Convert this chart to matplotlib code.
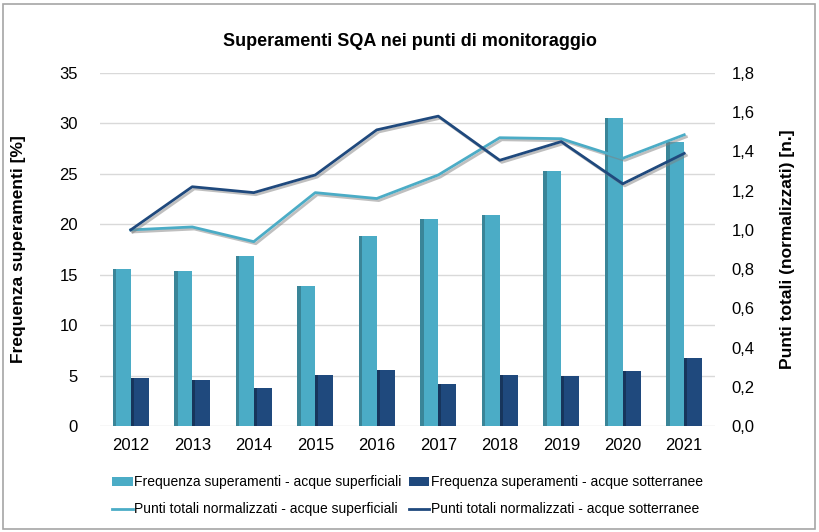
import matplotlib.pyplot as plt
import matplotlib.patheffects as pe
from matplotlib.patches import Rectangle
from matplotlib.lines import Line2D
import numpy as np

plt.rcParams['font.family'] = ['Liberation Sans', 'DejaVu Sans']

years = ['2012', '2013', '2014', '2015', '2016', '2017', '2018', '2019', '2020', '2021']
freq_sup = [15.6, 15.35, 16.85, 13.9, 18.85, 20.5, 20.95, 25.3, 30.5, 28.2]
freq_sott = [4.8, 4.6, 3.8, 5.05, 5.6, 4.15, 5.05, 4.95, 5.45, 6.75]
punti_sup = [1.0, 1.015, 0.94, 1.19, 1.16, 1.28, 1.47, 1.465, 1.365, 1.485]
punti_sott = [1.0, 1.22, 1.19, 1.28, 1.51, 1.58, 1.355, 1.45, 1.235, 1.39]

light = '#4BACC6'
dark = '#1F497D'

fig = plt.figure(figsize=(8.19, 5.32), dpi=100)
fig.patches.append(Rectangle((0.004, 0.006), 0.991, 0.987, transform=fig.transFigure,
                             fill=False, edgecolor='#A6A6A6', linewidth=1.2))
ax = fig.add_axes([100 / 819, 1 - 426 / 532, 615 / 819, 353 / 532])
ax2 = ax.twinx()

x = np.arange(len(years))
w = 0.29
b1 = ax.bar(x - w / 2, freq_sup, w, color=light, zorder=2, label='Frequenza superamenti - acque superficiali')
b2 = ax.bar(x + w / 2, freq_sott, w, color=dark, zorder=2, label='Frequenza superamenti - acque sotterranee')
# darker left edge to mimic the shaded bars
ax.bar(x - w + w * 0.09, freq_sup, w * 0.18, color='#3A8598', zorder=2, linewidth=0)
ax.bar(x + w * 0.09, freq_sott, w * 0.18, color='#17355C', zorder=2, linewidth=0)

shadow = [pe.SimpleLineShadow(offset=(1.5, -1.5), shadow_color='gray', alpha=0.5), pe.Normal()]
ax2.plot(x, punti_sup, color=light, lw=2, path_effects=shadow)
ax2.plot(x, punti_sott, color=dark, lw=2, path_effects=shadow)
l1 = Line2D([], [], color=light, lw=2)
l2 = Line2D([], [], color=dark, lw=2)

ax.set_xlim(-0.5, len(years) - 0.5)
ax.set_ylim(0, 35)
ax.set_yticks(range(0, 36, 5))
ax2.set_ylim(0, 1.8)
ax2.set_yticks(np.arange(0, 1.81, 0.2))
ax2.set_yticklabels([f'{v:.1f}'.replace('.', ',') for v in np.arange(0, 1.81, 0.2)])
ax.set_xticks(x)
ax.set_xticklabels(years)

ax.grid(axis='y', color='#D9D9D9', lw=1, zorder=0)
ax.set_axisbelow(True)
for a in (ax, ax2):
    for s in a.spines.values():
        s.set_visible(False)
    a.tick_params(length=0, labelsize=12, colors='black')
ax.tick_params(axis='y', pad=16)
ax2.tick_params(axis='y', pad=12)
ax.tick_params(axis='x', pad=9)

ax.set_ylabel('Frequenza superamenti [%]', fontsize=12.5, fontweight='bold', labelpad=24)
ax2.set_ylabel('Punti totali (normalizzati) [n.]', fontsize=12.5, fontweight='bold', labelpad=18)
fig.text(0.5, 1 - 42 / 532, 'Superamenti SQA nei punti di monitoraggio', ha='center', va='center',
         fontsize=13, fontweight='bold')

labels = ['Frequenza superamenti - acque superficiali', 'Punti totali normalizzati - acque superficiali',
          'Frequenza superamenti - acque sotterranee', 'Punti totali normalizzati - acque sotterranee']
fig.legend([b1, l1, b2, l2], labels,
           loc='upper left', bbox_to_anchor=(112 / 819, 1 - 475 / 532), ncol=2, frameon=False,
           fontsize=10, handlelength=1.5, handleheight=0.6, handletextpad=0.1, columnspacing=0.5,
           labelspacing=0.95, borderaxespad=0, borderpad=0)

fig.savefig('out.png', dpi=100)
